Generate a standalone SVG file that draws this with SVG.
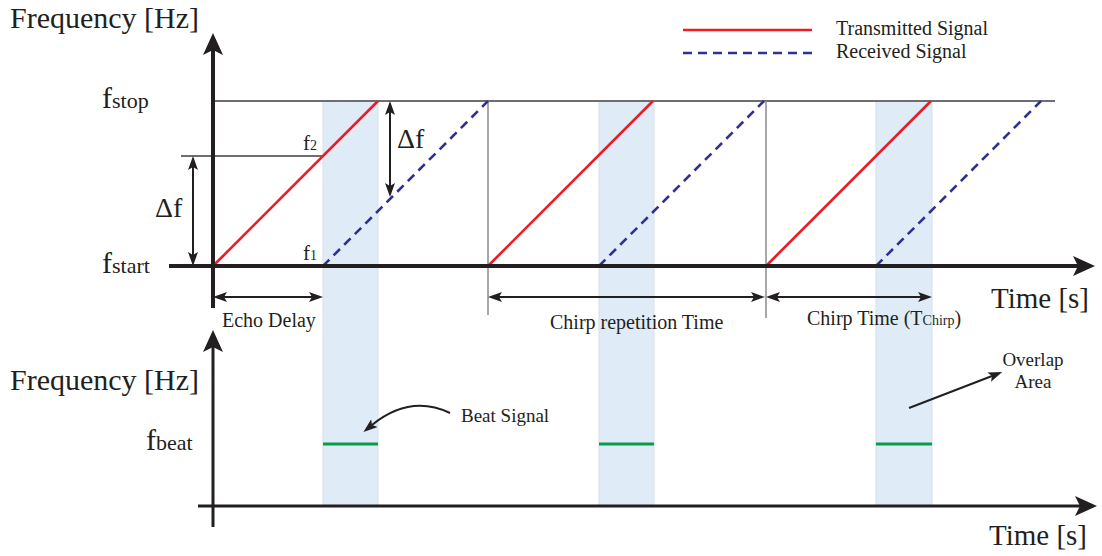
<svg xmlns="http://www.w3.org/2000/svg" width="1102" height="556" viewBox="0 0 1102 556">
<style>
.lbl{font-family:"Liberation Serif",serif;fill:#231f20}
.ax{stroke:#231f20;stroke-width:4;fill:none}
.ax2{stroke:#231f20;stroke-width:3;fill:none}
.dim{stroke:#231f20;stroke-width:2;fill:none}
.grid{stroke:#6d6e71;stroke-width:2;fill:none}
.vgrid{stroke:#8a8b8d;stroke-width:1.5;fill:none}
.tx{stroke:#ed1c24;stroke-width:2.6;fill:none}
.rx{stroke:#2e3192;stroke-width:2.6;fill:none;stroke-dasharray:9 6}
.beat{stroke:#0a9a48;stroke-width:3;fill:none}
.shade{fill:#dfecf7;stroke:#d6e0e8;stroke-width:1}
</style>
<defs>
<marker id="ah" viewBox="0 0 14 10" markerWidth="14" markerHeight="10" refX="3" refY="5" orient="auto-start-reverse" markerUnits="userSpaceOnUse">
<path d="M0,0 L14,5 L0,10 L3,5 Z" fill="#231f20"/>
</marker>
<marker id="axh" viewBox="0 0 22 20" markerWidth="22" markerHeight="20" refX="5" refY="10" orient="auto" markerUnits="userSpaceOnUse">
<path d="M0,0 L22,10 L0,20 L5,10 Z" fill="#231f20"/>
</marker>
</defs>

<g id="overlap-areas">
<rect class="shade" x="323" y="101" width="55" height="405"/>
<rect class="shade" x="599" y="101" width="55" height="405"/>
<rect class="shade" x="876" y="101" width="56" height="405"/>
</g>

<g id="connectors">
<line class="grid" x1="213" y1="101" x2="1055" y2="101"/>
<line class="grid" x1="181" y1="156" x2="323" y2="156"/>
<line class="vgrid" x1="488" y1="101" x2="488" y2="315"/>
<line class="vgrid" x1="766" y1="101" x2="766" y2="318"/>
<line class="tx" x1="213" y1="266" x2="378" y2="101"/>
<line class="tx" x1="488" y1="266" x2="653" y2="101"/>
<line class="tx" x1="766" y1="266" x2="931" y2="101"/>
<line class="rx" x1="323" y1="266" x2="488" y2="101"/>
<line class="rx" x1="599" y1="266" x2="764" y2="101"/>
<line class="rx" x1="876" y1="266" x2="1041" y2="101"/>
<line class="beat" x1="323" y1="444" x2="378" y2="444"/>
<line class="beat" x1="599" y1="444" x2="654" y2="444"/>
<line class="beat" x1="876" y1="444" x2="932" y2="444"/>
<line class="ax" x1="213" y1="308" x2="213" y2="50" marker-end="url(#axh)"/>
<line class="ax" x1="169" y1="266" x2="1078" y2="266" marker-end="url(#axh)"/>
<line class="ax2" x1="213" y1="527" x2="213" y2="347" marker-end="url(#axh)"/>
<line class="ax2" x1="198" y1="506" x2="1080" y2="506" marker-end="url(#axh)"/>
<line class="dim" x1="193" y1="167" x2="193" y2="255" marker-start="url(#ah)" marker-end="url(#ah)"/>
<line class="dim" x1="390" y1="112" x2="390" y2="186" marker-start="url(#ah)" marker-end="url(#ah)"/>
<line class="dim" x1="224" y1="297" x2="312" y2="297" marker-start="url(#ah)" marker-end="url(#ah)"/>
<line class="dim" x1="499" y1="297" x2="754" y2="297" marker-start="url(#ah)" marker-end="url(#ah)"/>
<line class="dim" x1="777" y1="297" x2="921" y2="297" marker-start="url(#ah)" marker-end="url(#ah)"/>
<path class="dim" d="M450,413 Q410,394 372,425" marker-end="url(#ah)"/>
<line class="dim" x1="909" y1="408" x2="992" y2="376" marker-end="url(#ah)"/>
</g>

<g id="legend">
<line class="tx" x1="683" y1="30" x2="812" y2="30"/>
<line class="rx" x1="683" y1="53" x2="812" y2="53"/>
<g class="lbl" font-family="Liberation Serif, serif" font-size="20">
<text x="836" y="35">Transmitted Signal</text>
<text x="836" y="58">Received Signal</text>
</g>
</g>

<g id="labels-top" class="lbl" font-family="Liberation Serif, serif">
<text x="10" y="28" font-size="30">Frequency [Hz]</text>
<text x="102" y="108" font-size="30">f<tspan font-size="22">stop</tspan></text>
<text x="102" y="273" font-size="30">f<tspan font-size="22">start</tspan></text>
<text x="155" y="217" font-size="28">Δf</text>
<text x="397" y="148" font-size="28">Δf</text>
<text x="303" y="150" font-size="21">f<tspan font-size="14">2</tspan></text>
<text x="303" y="260" font-size="21">f<tspan font-size="14">1</tspan></text>
<text x="991" y="308" font-size="29">Time [s]</text>
<text x="222" y="327" font-size="20">Echo Delay</text>
<text x="550" y="329" font-size="20">Chirp repetition Time</text>
<text x="807" y="325" font-size="20">Chirp Time (T<tspan font-size="14">Chirp</tspan>)</text>
</g>

<g id="labels-bottom" class="lbl" font-family="Liberation Serif, serif">
<text x="10" y="390" font-size="30">Frequency [Hz]</text>
<text x="146" y="450" font-size="30">f<tspan font-size="22">beat</tspan></text>
<text x="461" y="422" font-size="19">Beat Signal</text>
<text x="1033" y="366" font-size="19" text-anchor="middle">Overlap</text>
<text x="1033" y="388" font-size="19" text-anchor="middle">Area</text>
<text x="989" y="545" font-size="29">Time [s]</text>
</g>
</svg>
